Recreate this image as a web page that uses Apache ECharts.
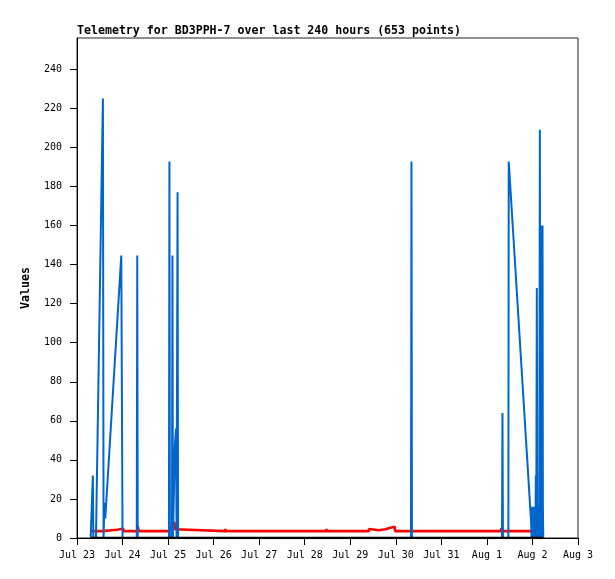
<!DOCTYPE html>
<html>
<head>
<meta charset="utf-8">
<script src="https://cdn.jsdelivr.net/npm/echarts/dist/echarts.min.js"></script>
<style>
  html, body { margin: 0; padding: 0; background: #fff; }
  #main { width: 615px; height: 579px; }
</style>
</head>
<body>
<div id="main"></div>
<script>
// x values are hours since Jul 23 00:00
const dayLabels = ['Jul 23', 'Jul 24', 'Jul 25', 'Jul 26', 'Jul 27', 'Jul 28', 'Jul 29', 'Jul 30', 'Jul 31', 'Aug 1', 'Aug 2', 'Aug 3'];
const yTicks = [0, 20, 40, 60, 80, 100, 120, 140, 160, 180, 200, 220, 240];

// blue channel
const blueHours = [7.2, 8.1, 8.35, 8.6, 10.0, 13.65, 14.0, 14.45, 14.9, 23.33, 23.76, 24.0,
  31.5, 31.75, 32.0, 48.45, 48.7, 48.95, 50.05, 50.3, 50.55, 51.4, 51.6, 52.2, 52.45,
  52.75, 53.0, 53.25, 176.0, 176.25, 176.5, 223.95, 224.2, 224.45, 227.3, 227.5, 239.3,
  239.5, 239.75, 240.0, 240.25, 240.5, 240.75, 241.0, 241.25, 241.5, 241.8, 242.0, 242.3,
  242.55, 242.8, 243.05, 243.3, 243.6, 243.9, 244.15, 244.4, 244.65, 244.9, 245.1, 245.3,
  245.5, 245.7];
const blueValues = [0, 0, 32, 0, 0, 225, 0, 18, 10, 144.6, 144.6, 0,
  0, 144.6, 0, 0, 192.8, 0, 0, 144.6, 0, 0, 48, 56, 0,
  0, 177, 0, 0, 192.8, 0, 0, 64, 0, 0, 192.8, 8,
  0, 16, 0, 16, 4, 16, 0, 16, 0, 32, 0, 128,
  0, 16, 0, 16, 0, 209, 0, 16, 0, 160, 0, 160,
  16, 0];

// red channel
const redHours = [7.0, 13.2, 13.4, 21.1, 21.3, 24.3, 24.5, 31.9, 32.1, 32.4, 48.6, 48.8,
  49.9, 50.1, 51.4, 51.6, 52.4, 52.6, 77.9, 78.1, 78.3, 131.3, 131.5, 131.7, 153.7, 153.9,
  154.2, 158.9, 159.1, 162.5, 162.7, 165.2, 165.4, 167.4, 167.6, 223.3, 223.6, 224.3, 224.5, 245.7];
const redValues = [3.5, 3.5, 4.2, 4.2, 4.7, 4.7, 3.5, 3.5, 5.9, 3.5, 3.5, 5.0,
  5.0, 7.8, 7.8, 4.5, 4.5, 3.5, 3.5, 4.6, 3.5, 3.5, 4.6, 3.5, 3.5, 4.6,
  4.0, 4.0, 4.5, 4.5, 5.2, 5.2, 5.8, 5.8, 3.5, 3.5, 5.0, 5.0, 3.5, 3.5];

// black channel (flat zero)
const blackHours = [7.4, 245.7];
const blackValues = [0, 0];

const pair = (xs, ys) => xs.map((x, i) => [x, ys[i]]);
const font = 'DejaVu Sans Mono';

const lineSeries = (data, color, width) => ({
  type: 'line',
  data,
  smooth: false,
  sampling: null,
  showSymbol: false,
  symbol: 'none',
  lineStyle: { color, width }
});

const myChart = echarts.init(document.getElementById('main'));
const option = {
  animation: false,
  backgroundColor: '#fff',
  title: {
    text: 'Telemetry for BD3PPH-7 over last 240 hours (653 points)',
    left: 77,
    top: 25,
    padding: 0,
    textStyle: { fontFamily: font, fontSize: 11.6, fontWeight: 'bold', color: '#000' }
  },
  grid: {
    left: 77,
    right: 37,
    top: 38,
    bottom: 41,
    show: true,
    borderColor: '#222',
    borderWidth: 1
  },
  xAxis: {
    type: 'value',
    min: 0,
    max: 264,
    interval: 24,
    axisLine: { lineStyle: { color: '#000', width: 1 } },
    axisTick: { length: 7, lineStyle: { color: '#000' } },
    axisLabel: {
      margin: 12,
      fontFamily: font,
      fontSize: 10,
      color: '#000',
      formatter: (v) => dayLabels[Math.round(v / 24)]
    },
    splitLine: { show: false }
  },
  yAxis: {
    type: 'value',
    min: 0,
    max: 256,
    name: 'Values',
    nameLocation: 'middle',
    nameGap: 45,
    nameTextStyle: { fontFamily: font, fontSize: 11.6, fontWeight: 'bold', color: '#000' },
    axisLine: { show: true, lineStyle: { color: '#000', width: 1 } },
    axisTick: { show: true, length: 7, customValues: yTicks, lineStyle: { color: '#000' } },
    axisLabel: { margin: 15, fontFamily: font, fontSize: 10, color: '#000', customValues: yTicks },
    splitLine: { show: false }
  },
  series: [
    lineSeries(pair(redHours, redValues), '#ff0000', 2.6),
    lineSeries(pair(blueHours, blueValues), '#0066cc', 2),
    lineSeries(pair(blackHours, blackValues), '#000', 2.5)
  ]
};
myChart.setOption(option);
</script>
</body>
</html>
